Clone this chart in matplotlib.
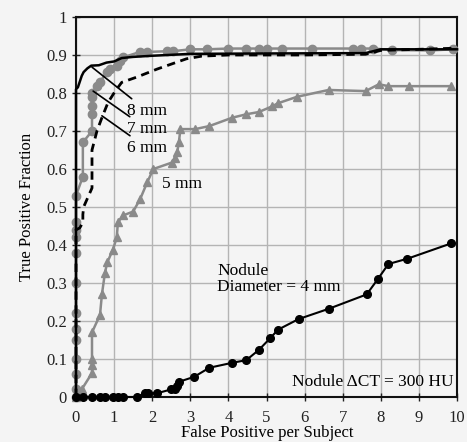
import matplotlib
matplotlib.use("Agg")
import matplotlib.pyplot as plt

# ---- data ----
fp_8mm = [0.0, 0.0, 0.05, 0.1, 0.15, 0.2, 0.3, 0.4, 0.6, 0.8, 1.0, 1.2, 1.5, 2.0, 3.0, 5.0, 7.6, 8.0, 10.0]
tpf_8mm = [0.0, 0.81, 0.815, 0.83, 0.845, 0.855, 0.865, 0.872, 0.873, 0.88, 0.883, 0.892, 0.895, 0.898, 0.903, 0.904, 0.905, 0.915, 0.915]

fp_7mm = [0.0, 0.0, 0.0, 0.0, 0.0, 0.0, 0.0, 0.0, 0.0, 0.0, 0.0, 0.0, 0.0, 0.18, 0.18, 0.42, 0.42, 0.42, 0.42, 0.42,
          0.55, 0.63, 0.82, 0.9, 1.07, 1.16, 1.24, 1.68, 1.87, 2.4, 2.55, 3.0, 3.45, 4.0, 4.45, 4.8, 5.0, 5.4,
          6.2, 7.26, 7.47, 7.8, 8.3, 9.3, 9.9]
tpf_7mm = [0.0, 0.02, 0.06, 0.1, 0.15, 0.18, 0.22, 0.3, 0.38, 0.42, 0.44, 0.46, 0.53, 0.58, 0.67, 0.70, 0.744, 0.765, 0.79, 0.80,
           0.818, 0.83, 0.855, 0.863, 0.87, 0.885, 0.894, 0.908, 0.908, 0.91, 0.91, 0.915, 0.915, 0.917, 0.917, 0.917, 0.917, 0.917,
           0.917, 0.917, 0.917, 0.917, 0.913, 0.912, 0.915]

fp_6mm = [0.0, 0.0, 0.1, 0.18, 0.18, 0.2, 0.42, 0.42, 0.55, 0.68, 0.84, 1.03, 1.2, 1.6, 2.13, 2.5, 2.9, 3.3, 4.0, 6.0, 7.6, 8.0, 9.0, 10.0]
tpf_6mm = [0.0, 0.44, 0.445, 0.46, 0.48, 0.5, 0.55, 0.65, 0.70, 0.735, 0.775, 0.805, 0.828, 0.842, 0.863, 0.876, 0.89, 0.897, 0.9, 0.9, 0.902, 0.912, 0.915, 0.918]

fp_5mm = [0.0, 0.15, 0.42, 0.42, 0.42, 0.42, 0.63, 0.68, 0.76, 0.82, 0.97, 1.07, 1.1, 1.24, 1.5, 1.68, 1.87, 2.03, 2.52, 2.6, 2.66,
          2.7, 2.74, 3.13, 3.5, 4.1, 4.47, 4.8, 5.15, 5.3, 5.8, 6.63, 7.6, 7.95, 8.2, 8.73, 9.84]
tpf_5mm = [0.0, 0.02, 0.063, 0.085, 0.1, 0.17, 0.216, 0.27, 0.327, 0.354, 0.388, 0.42, 0.46, 0.478, 0.488, 0.52, 0.565, 0.6, 0.617, 0.63, 0.646,
           0.67, 0.705, 0.705, 0.713, 0.735, 0.744, 0.75, 0.765, 0.773, 0.79, 0.808, 0.805, 0.823, 0.818, 0.818, 0.818]

fp_4mm = [0.0, 0.18, 0.42, 0.63, 0.76, 0.97, 1.1, 1.24, 1.6, 1.8, 1.9, 2.13, 2.5, 2.6, 2.66, 2.7, 3.1, 3.5, 4.1, 4.47, 4.8,
          5.1, 5.3, 5.84, 6.63, 7.63, 7.92, 8.2, 8.7, 9.84]
tpf_4mm = [0.0, 0.0, 0.0, 0.0, 0.0, 0.0, 0.0, 0.0, 0.0, 0.01, 0.01, 0.01, 0.02, 0.02, 0.03, 0.04, 0.053, 0.077, 0.09, 0.097, 0.124,
           0.155, 0.177, 0.205, 0.232, 0.27, 0.31, 0.35, 0.364, 0.404]

x_ticks = list(range(0, 11))
y_ticks = [0, 0.1, 0.2, 0.3, 0.4, 0.5, 0.6, 0.7, 0.8, 0.9, 1.0]
y_tick_labels = ["0", "0.1", "0.2", "0.3", "0.4", "0.5", "0.6", "0.7", "0.8", "0.9", "1"]

plt.rcParams['font.family'] = ['Liberation Serif', 'DejaVu Serif']

bg = '#f4f4f4'
gray = '#8a8a8a'
fig = plt.figure(figsize=(4.67, 4.42), dpi=100, facecolor=bg)
ax = fig.add_axes([76/467, 45/442, 381/467, 380/442], facecolor=bg)

ax.set_xlim(0, 10)
ax.set_ylim(0, 1)
ax.set_xticks(x_ticks)
ax.set_yticks(y_ticks)
ax.set_yticklabels(y_tick_labels)
ax.grid(True, color='#b4b4b4', linewidth=1.0)
ax.set_axisbelow(True)
ax.tick_params(direction='inout', length=6, width=1.0, labelsize=12, colors='#222222')
ax.tick_params(axis='x', pad=6)
for s in ax.spines.values():
    s.set_linewidth(1.5)
    s.set_color('#111111')

ax.plot(fp_7mm, tpf_7mm, color=gray, lw=1.8, marker='o', ms=6, zorder=3, clip_on=False)
ax.plot(fp_5mm, tpf_5mm, color=gray, lw=1.8, marker='^', ms=5.5, zorder=3, clip_on=False)
ax.plot(fp_6mm, tpf_6mm, color='black', lw=2.0, ls=(0, (3, 2)), zorder=4, clip_on=False)
ax.plot(fp_8mm, tpf_8mm, color='black', lw=1.8, zorder=5, clip_on=False)
ax.plot(fp_4mm, tpf_4mm, color='black', lw=1.5, marker='o', ms=5.5, zorder=5, clip_on=False)

fs = 12.5
ax.annotate('8 mm', xy=(0.42, 0.868), xytext=(1.35, 0.752), fontsize=fs, va='center',
            arrowprops=dict(arrowstyle='-', color='black', lw=1.2, shrinkA=2, shrinkB=0))
ax.annotate('7 mm', xy=(0.45, 0.805), xytext=(1.35, 0.705), fontsize=fs, va='center',
            arrowprops=dict(arrowstyle='-', color='black', lw=1.2, shrinkA=2, shrinkB=0))
ax.annotate('6 mm', xy=(0.68, 0.74), xytext=(1.35, 0.655), fontsize=fs, va='center',
            arrowprops=dict(arrowstyle='-', color='black', lw=1.2, shrinkA=2, shrinkB=0))
ax.text(2.25, 0.56, '5 mm', fontsize=fs, va='center')
ax.text(3.7, 0.31, 'Nodule\nDiameter = 4 mm', fontsize=fs, va='center', linespacing=1.0)
ax.text(9.9, 0.04, 'Nodule ΔCT = 300 HU', fontsize=fs, va='center', ha='right')

ax.set_ylabel('True Positive Fraction', fontsize=12, labelpad=8)
fig.text(267/467, 9/442, 'False Positive per Subject', fontsize=12, ha='center', va='center')

fig.savefig('out.png', dpi=100, facecolor=bg)
